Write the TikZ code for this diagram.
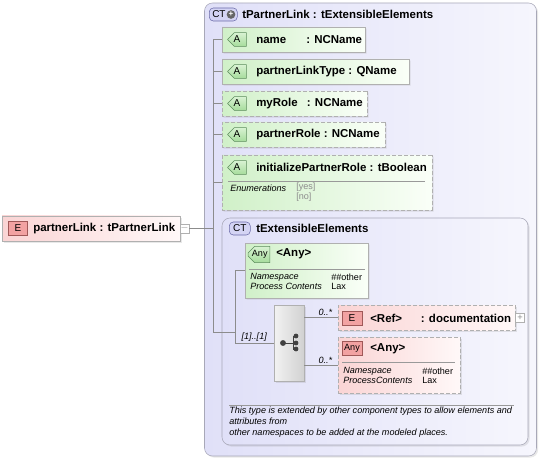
\documentclass[tikz,border=0pt]{standalone}
\usepackage{fontspec}
\setsansfont{Liberation Sans}
\usetikzlibrary{shapes.misc,shadows}
\definecolor{ctfill}{HTML}{E0E0F8}
\definecolor{ctright}{HTML}{F6F6FD}
\definecolor{ctline}{HTML}{A8A8B8}
\definecolor{attrfill}{HTML}{D0F0C8}
\definecolor{attrright}{HTML}{FAFFF8}
\definecolor{elfill}{HTML}{FAD4D4}
\definecolor{elright}{HTML}{FFF8F8}
\definecolor{boxline}{HTML}{B0B0B0}
\definecolor{abfill}{HTML}{A6DC9C}
\definecolor{abtop}{HTML}{D8F2D2}
\definecolor{abline}{HTML}{5C8C5C}
\definecolor{ebfill}{HTML}{F2A2A2}
\definecolor{ebline}{HTML}{A05858}
\definecolor{ctbfill}{HTML}{D4D4F4}
\definecolor{ctbline}{HTML}{6A6AA8}

\begin{document}
\begin{tikzpicture}[x=.75pt,y=-.75pt,
  every node/.style={font=\sffamily},
  shad/.style={drop shadow={opacity=.18,shadow xshift=1.2pt,shadow yshift=-1.2pt}},
  ctbox/.style={draw=ctline,rounded corners=6pt,left color=ctfill,right color=ctright,shad},
  attr/.style={chamfered rectangle,chamfered rectangle corners={north west,south west},
    chamfered rectangle xsep=5.5pt,chamfered rectangle ysep=6.5pt,inner sep=0pt,
    draw=boxline,left color=attrfill,right color=attrright,shad},
  opt/.style={dash pattern=on 3pt off 1.5pt},
  elem/.style={rectangle,inner sep=0pt,draw=boxline,left color=elfill,right color=elright,shad},
  abadge/.style={chamfered rectangle,chamfered rectangle corners={north west,south west},
    chamfered rectangle xsep=2.5pt,chamfered rectangle ysep=3pt,inner sep=0pt,
    minimum width=14pt,minimum height=9.75pt,draw=abline,top color=abtop,bottom color=abfill,
    font=\sffamily\fontsize{7.5}{8}\selectfont},
  ebadge/.style={rectangle,inner sep=0pt,minimum width=14pt,minimum height=10.5pt,
    draw=ebline,fill=ebfill,font=\sffamily\fontsize{7.5}{8}\selectfont},
  ctbadge/.style={rectangle,rounded corners=3pt,inner sep=0pt,minimum height=9.75pt,
    draw=ctbline,fill=ctbfill,font=\sffamily\fontsize{7.5}{8}\selectfont},
  lbl/.style={font=\sffamily\bfseries\fontsize{8.6}{10}\selectfont,inner sep=0pt,anchor=west},
  note/.style={font=\sffamily\itshape\fontsize{6.8}{8}\selectfont,inner sep=0pt,anchor=west},
  val/.style={font=\sffamily\fontsize{6.8}{8}\selectfont,inner sep=0pt,anchor=west},
  mult/.style={font=\sffamily\itshape\fontsize{6.8}{8}\selectfont,inner sep=1pt,anchor=south east},
  btn/.style={rectangle,draw=boxline,fill=white,minimum size=6.75pt,inner sep=0pt,
    text=black!45,font=\sffamily\fontsize{7}{7}\selectfont},
  conn/.style={draw=black!45,line width=.5pt},
  divider/.style={draw=black!40,line width=.5pt}]

  \useasboundingbox (0,0) rectangle (541,459);

  % complex type tPartnerLink
  \node[ctbox,minimum width=249pt,minimum height=339.75pt] (tpl) at (370.5,229.5) {};
  \node[ctbadge,minimum width=21pt,anchor=west] (tplct) at (209,14.5) {};
  \node[anchor=west,inner sep=0pt,font=\sffamily\fontsize{7.5}{8}\selectfont] (tplctt) at (212,14.5) {CT};
  \node[circle,fill=black!60,inner sep=0pt,minimum size=6.5pt,text=white,
    font=\sffamily\bfseries\fontsize{6}{6}\selectfont] (tplplus) at (231,14.5) {+};
  \node[lbl] (tplname) at (242,14.5) {tPartnerLink : tExtensibleElements};

  % attributes
  \node[attr,minimum width=107.25pt,minimum height=18.75pt] (name) at (293.5,39.5) {};
  \node[abadge] (nameA) at (237,39.5) {A};
  \node[lbl] (namet) at (256,40) {\makebox[37.5pt][l]{name}: NCName};

  \node[attr,minimum width=140.25pt,minimum height=18.75pt] (pltype) at (315.5,71.5) {};
  \node[abadge] (pltypeA) at (237,71.5) {A};
  \node[lbl] (pltypet) at (256,72) {partnerLinkType : QName};

  \node[attr,opt,minimum width=108.75pt,minimum height=18.75pt] (myrole) at (294.5,103.5) {};
  \node[abadge] (myroleA) at (237,103.5) {A};
  \node[lbl] (myrolet) at (256,104) {\makebox[38pt][l]{myRole}: NCName};

  \node[attr,opt,minimum width=122.25pt,minimum height=18.75pt] (prole) at (303.5,134.5) {};
  \node[abadge] (proleA) at (237,134.5) {A};
  \node[lbl] (prolet) at (256,135) {partnerRole : NCName};

  \node[attr,opt,minimum width=157.5pt,minimum height=41.25pt] (initpr) at (327,182.5) {};
  \node[abadge] (initprA) at (237,167.5) {A};
  \node[lbl] (initprt) at (256,167) {initializePartnerRole : tBoolean};
  \draw[divider] (228,181) -- (425,181);
  \node[note] (initenum) at (230,188) {Enumerations};
  \node[val,text=black!45] (inityes) at (296,187) {[yes]};
  \node[val,text=black!45] (initno) at (296,197) {[no]};

  % complex type tExtensibleElements
  \node[ctbox,minimum width=229.5pt,minimum height=170.25pt] (tee) at (375,331.5) {};
  \node[ctbadge,minimum width=15.75pt,anchor=west] (teect) at (229,228.5) {CT};
  \node[lbl] (teename) at (256,228.5) {tExtensibleElements};

  \node[attr,minimum width=92.25pt,minimum height=41.25pt] (anyg) at (306.5,270.5) {};
  \node[abadge,chamfered rectangle xsep=1.8pt,minimum width=15pt,
    font=\sffamily\fontsize{6.8}{7}\selectfont] (anygb) at (259,254.5) {\,Any};
  \node[lbl] (anygt) at (276,254) {<Any>};
  \draw[divider] (249,269) -- (365,269);
  \node[note] (anygns) at (250,277) {Namespace};
  \node[note] (anygpc) at (250,286) {Process Contents};
  \node[val] (anygnsv) at (331,277) {\#\#other};
  \node[val] (anygpcv) at (331,286) {Lax};

  % sequence
  \node[rectangle,draw=boxline,left color=black!5,right color=black!18,shad,
    minimum width=22.5pt,minimum height=57pt] (seq) at (289,343) {};
  \draw[black!75,line width=.6pt] (283,343) -- (293,343) (293,336) -- (293,349)
    (293,336) -- (296,336) (293,349) -- (296,349);
  \fill[black!75] (283,343) circle (2.2pt) (296,336) circle (1.8pt)
    (296,343) circle (1.8pt) (296,349) circle (1.8pt);

  \node[elem,opt,minimum width=132.75pt,minimum height=18.75pt] (ref) at (426.5,317.5) {};
  \node[ebadge,minimum width=15pt] (refE) at (352,318) {E};
  \node[lbl] (reft) at (370,318) {\makebox[38pt][l]{<Ref>}: documentation};
  \node[btn] (refbtn) at (520,318) {+};

  \node[elem,opt,minimum width=91.5pt,minimum height=42pt] (anyp) at (399,365) {};
  \node[ebadge,minimum width=15pt,font=\sffamily\fontsize{6.8}{7}\selectfont] (anypb) at (352,348.5) {Any};
  \node[lbl] (anypt) at (370,349) {<Any>};
  \draw[divider] (342,362) -- (455,362);
  \node[note] (anypns) at (343,371) {Namespace};
  \node[note] (anyppc) at (343,380) {ProcessContents};
  \node[val] (anypnsv) at (422,371) {\#\#other};
  \node[val] (anyppcv) at (422,380) {Lax};

  % documentation of tExtensibleElements
  \draw[divider] (229,405) -- (514,405);
  \node[note,anchor=north west,align=left] (teedoc) at (229,407)
    {This type is extended by other component types to allow elements and\\
     attributes from\\other namespaces to be added at the modeled places.};

  % element partnerLink
  \node[elem,minimum width=133.5pt,minimum height=18.75pt] (plink) at (91,228.5) {};
  \node[ebadge] (plinkE) at (18,228.5) {E};
  \node[lbl] (plinkt) at (33,229) {partnerLink : tPartnerLink};
  \node[btn] (plinkbtn) at (184.5,228.5) {$-$};

  % connectors
  \coordinate (trunk) at (213,40);
  \coordinate (trunkend) at (213,332);
  \coordinate (seqin) at (235,343);
  \draw[conn] (plinkbtn.east) -- (plinkbtn.east -| trunk);
  \draw[conn] (name.west -| trunk) -- (trunkend) -- (trunkend -| seqin);
  \foreach \a in {name,pltype,myrole,prole,initpr}
    \draw[conn] (\a.west -| trunk) -- (\a.west);
  \draw[conn] (anyg.west -| seqin) -- (anyg.west);
  \draw[conn] (anyg.west -| seqin) -- (seqin) -- (seq.west);
  \node[mult] (seqm) at ([xshift=-4pt]seq.west) {[1]..[1]};
  \draw[conn] (seq.east |- ref.west) -- (ref.west);
  \node[mult] (refm) at ([xshift=-3pt]ref.west) {0..*};
  \draw[conn] (seq.east |- anyp.west) -- (anyp.west);
  \node[mult] (anypm) at ([xshift=-3pt]anyp.west) {0..*};
\end{tikzpicture}
\end{document}
